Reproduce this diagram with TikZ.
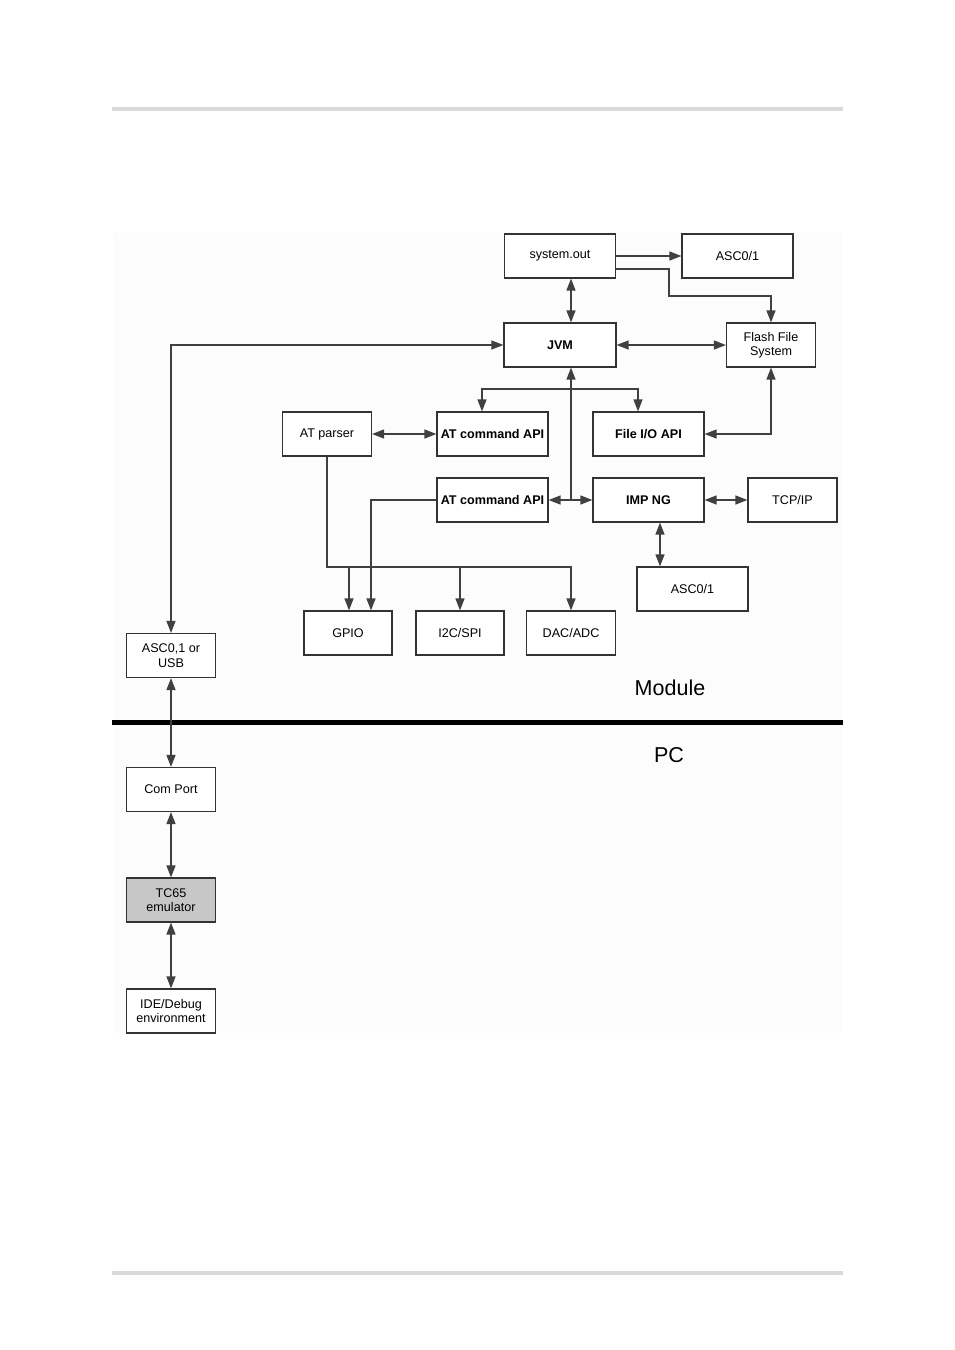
\documentclass[tikz,border=0pt]{standalone}
\usepackage{fontspec}
\setmainfont{Liberation Sans}
\usetikzlibrary{arrows.meta,calc}
\begin{document}
\begin{tikzpicture}[x=1pt,y=-1pt,
  box/.style={draw=black!80,line width=1.2pt,fill=white,minimum width=111pt,minimum height=44pt,inner sep=0pt,align=center,font=\fontsize{12.6}{14.5}\selectfont},
  nbox/.style={box,minimum width=89pt},
  bbox/.style={box,font=\fontsize{12.6}{14.5}\selectfont\bfseries},
  conn/.style={draw=black!75,line width=1.3pt},
  arr/.style={conn,-{Triangle[length=12pt,width=9pt]}},
  arrr/.style={conn,{Triangle[length=12pt,width=9pt]}-{Triangle[length=12pt,width=9pt]}},
  lbl/.style={font=\fontsize{21.5}{24}\selectfont}]
\useasboundingbox[fill=white] (0,0) rectangle (954,1350);
% page rules and diagram background
\fill[black!15] (112,107) rectangle (843,111);
\fill[black!15] (112,1271) rectangle (843,1275);
\fill[black!1] (113,233) rectangle (843,1033);
% nodes
\node[box] (sysout) at (560,256) {system.out};
\node[box] (asc01a) at (737.5,256) {ASC0/1};
\node[bbox,minimum width=112pt] (jvm) at (560,345) {JVM};
\node[nbox] (flash) at (771,345) {Flash File\\System};
\node[nbox] (atparser) at (327,434) {AT parser};
\node[bbox] (atcmd1) at (492.5,434) {AT command API};
\node[bbox] (fileio) at (648.5,434) {File I/O API};
\node[bbox] (atcmd2) at (492.5,500) {AT command API};
\node[bbox] (impng) at (648.5,500) {IMP NG};
\node[nbox] (tcpip) at (792.5,500) {TCP/IP};
\node[box] (asc01b) at (692.5,589) {ASC0/1};
\node[nbox,minimum width=88pt] (gpio) at (348,633) {GPIO};
\node[nbox,minimum width=88pt] (i2c) at (460,633) {I2C/SPI};
\node[nbox] (dac) at (571,633) {DAC/ADC};
\node[nbox] (ascusb) at (171,655.5) {ASC0,1 or\\USB};
\node[nbox] (comport) at (171,789.5) {Com Port};
\node[nbox,fill=black!22] (tc65) at (171,900) {TC65\\emulator};
\node[nbox] (ide) at (171,1011) {IDE/Debug\\environment};
\node[lbl] (module) at (670,688) {Module};
\node[lbl] (pc) at (669,755) {PC};
% separator
\draw[line width=4.5pt] (112,722.5) -- (843,722.5);
% helper coordinates
\coordinate (vx) at (571,0);
\coordinate (ax) at (660,0);
\coordinate (s2) at (0,269);
\coordinate (fc) at (669,296);
\coordinate (jt) at (571,389);
\coordinate (jb) at (571,500);
\coordinate (bus) at (0,567);
% connectors
\draw[arr] (sysout.east) -- (asc01a.west);
\draw[arr] (sysout.east |- s2) -| (fc) -| (flash.north);
\draw[arrr] (sysout.south -| vx) -- (jvm.north -| vx);
\draw[arrr] (jvm) -- (flash);
\draw[arrr] (ascusb.north) |- (jvm.west);
\draw[conn] (jt) -- (jb);
\draw[arr] (jb) -- (jvm.south -| vx);
\draw[arr] (jt) -| ([xshift=-10.5pt]atcmd1.north);
\draw[arr] (jt) -| ([xshift=-10.5pt]fileio.north);
\draw[arr] (jb) -- (atcmd2.east);
\draw[arr] (jb) -- (impng.west);
\draw[arrr] (atparser) -- (atcmd1);
\draw[arrr] (fileio.east) -| (flash.south);
\draw[arrr] (impng) -- (tcpip);
\draw[arrr] (impng.south -| ax) -- (asc01b.north -| ax);
\draw[arr] (atparser.south) |- (dac.north |- bus) -- (dac.north);
\draw[arr] (i2c.north |- bus) -- (i2c.north);
\draw[arr] ([xshift=1pt]gpio.north |- bus) -- ([xshift=1pt]gpio.north);
\draw[arr] (atcmd2.west) -| ([xshift=23pt]gpio.north);
\draw[arrr] (ascusb) -- (comport);
\draw[arrr] (comport) -- (tc65);
\draw[arrr] (tc65) -- (ide);
\end{tikzpicture}
\end{document}
